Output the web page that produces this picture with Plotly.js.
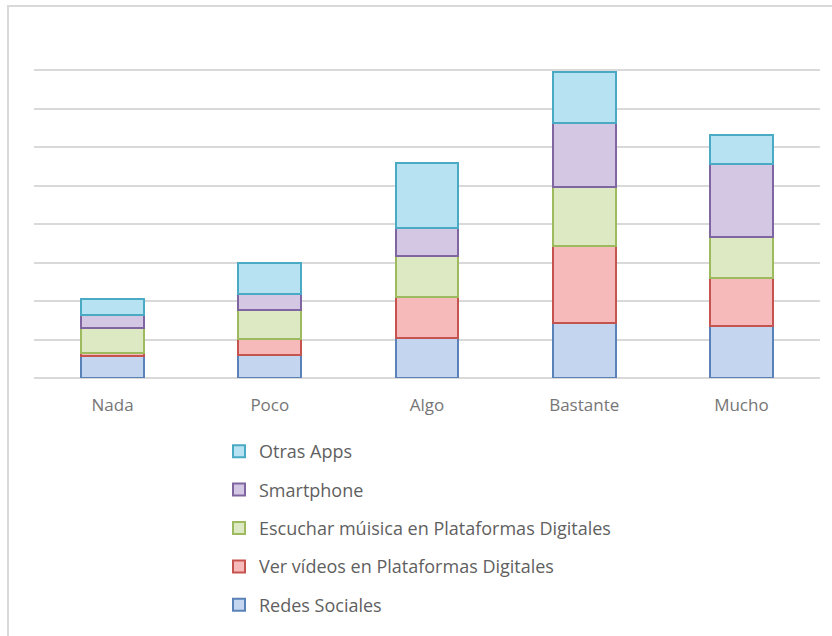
<!DOCTYPE html>
<html>
<head>
<meta charset="utf-8">
<script src="https://cdn.plot.ly/plotly-3.0.1.min.js"></script>
<style>
html,body{margin:0;padding:0;background:#fff;}
#chart{width:832px;height:636px;}
</style>
</head>
<body>
<div id="chart"></div>
<script>
var categories = ["Nada", "Poco", "Algo", "Bastante", "Mucho"];
var seriesNames = ["Redes Sociales", "Ver vídeos en Plataformas Digitales", "Escuchar múisica en Plataformas Digitales", "Smartphone", "Otras Apps"];
var redesSociales = [0.56, 0.60, 1.03, 1.43, 1.36];
var verVideos = [0.09, 0.42, 1.07, 2.01, 1.25];
var escucharMusica = [0.64, 0.74, 1.08, 1.54, 1.07];
var smartphone = [0.36, 0.42, 0.71, 1.65, 1.89];
var otrasApps = [0.41, 0.81, 1.71, 1.34, 0.76];

var seriesValues = [redesSociales, verVideos, escucharMusica, smartphone, otrasApps];
var fills = ["#c3d5ef", "#f6baba", "#dde9c3", "#d4c7e4", "#b7e2f1"];
var borders = ["#5b82b8", "#c55450", "#9dba5e", "#7f66a0", "#4aaac4"];

var traces = seriesValues.map(function (vals, i) {
  return {
    type: "bar",
    name: seriesNames[i],
    x: categories,
    y: vals,
    legendgroup: "g" + i,
    legendrank: (seriesValues.length - i) * 100,
    marker: { color: fills[i], line: { color: borders[i], width: 2 } },
    hoverinfo: "x+y+name"
  };
});

var L = 34, R = 12, T = 32, B = 258;
var W = 832 - L - R, H = 636 - T - B;
function px(x) { return (x - L) / W; }
function py(y) { return 1 - (y - T) / H; }

var layout = {
  width: 832,
  height: 636,
  margin: { l: L, r: R, t: T, b: B, autoexpand: false },
  paper_bgcolor: "#ffffff",
  plot_bgcolor: "#ffffff",
  barmode: "stack",
  bargap: 0.6,
  font: { family: "Open Sans, sans-serif", color: "#6f6f6f" },
  xaxis: {
    showline: false,
    showgrid: false,
    zeroline: false,
    ticks: "",
    tickfont: { size: 17, color: "#767676" },
    ticklabelstandoff: 15
  },
  yaxis: {
    range: [0, 9],
    dtick: 1,
    showticklabels: false,
    showgrid: true,
    gridcolor: "#d9d9d9",
    gridwidth: 2,
    zeroline: true,
    zerolinecolor: "#d9d9d9",
    zerolinewidth: 2,
    showline: false,
    ticks: ""
  },
  showlegend: true,
  legend: {
    orientation: "v",
    traceorder: "grouped",
    tracegroupgap: 12,
    x: px(219),
    xanchor: "left",
    y: py(433),
    yanchor: "top",
    font: { size: 18, color: "#5f5f5f" },
    bgcolor: "rgba(0,0,0,0)"
  },
  shapes: [
    { type: "line", xref: "paper", yref: "paper", x0: px(8), x1: px(8), y0: py(6), y1: py(640), line: { color: "#d9d9d9", width: 2 } },
    { type: "line", xref: "paper", yref: "paper", x0: px(7), x1: px(834), y0: py(6), y1: py(6), line: { color: "#d9d9d9", width: 2 } }
  ]
};

Plotly.newPlot("chart", traces, layout, { displayModeBar: false, staticPlot: true });
</script>
</body>
</html>
